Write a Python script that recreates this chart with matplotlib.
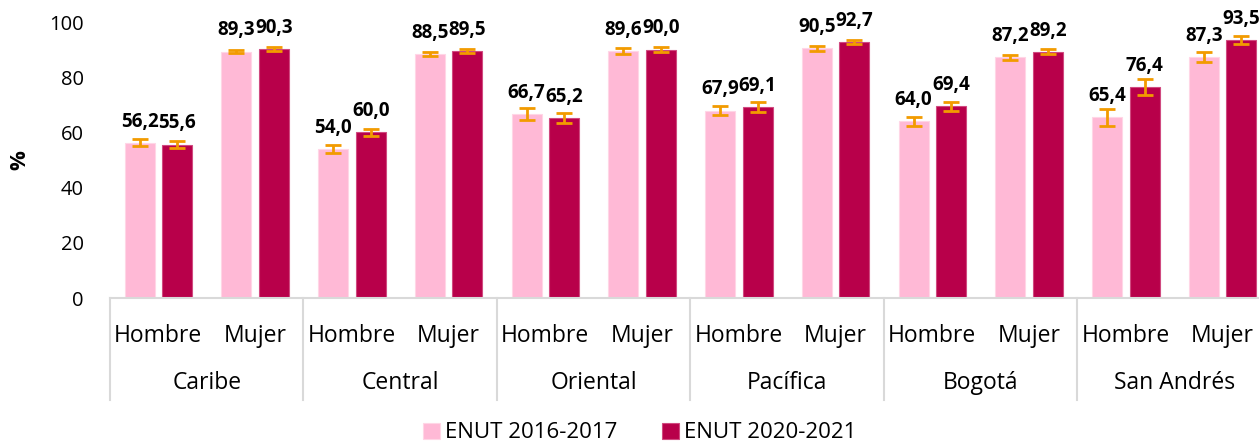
import numpy as np
import matplotlib.pyplot as plt
from matplotlib.transforms import blended_transform_factory

plt.rcParams["font.family"] = ["Open Sans", "DejaVu Sans"]

# Data
regions = ["Caribe", "Central", "Oriental", "Pacífica", "Bogotá", "San Andrés"]
sexes = ["Hombre", "Mujer"]
series_names = ["ENUT 2016-2017", "ENUT 2020-2021"]

enut_2016 = [56.2, 89.3, 54.0, 88.5, 66.7, 89.6, 67.9, 90.5, 64.0, 87.2, 65.4, 87.3]
enut_2020 = [55.6, 90.3, 60.0, 89.5, 65.2, 90.0, 69.1, 92.7, 69.4, 89.2, 76.4, 93.5]
err_2016 = [1.3, 0.7, 1.6, 0.7, 2.2, 1.1, 1.5, 0.9, 1.6, 0.9, 3.0, 1.9]
err_2020 = [1.2, 0.7, 1.4, 0.7, 1.8, 0.9, 1.8, 0.8, 1.5, 0.9, 2.9, 1.3]

PINK = "#FFB9D6"
DARK = "#B8004A"
ORANGE = "#F29B00"

fig = plt.figure(figsize=(12.59, 4.46), dpi=100)
W, H = 1259, 446
# axes placed in pixel terms: left 110, right 1271 (cut off by image edge), y0 at 298, y100 at 22
ax = fig.add_axes([110 / W, 1 - 298 / H, 1161 / W, 276 / H])

x = np.arange(len(enut_2016))
off = 0.195
bw = 0.31

ax.bar(x - off, enut_2016, bw, color=PINK, edgecolor="#FFD6E6", linewidth=0.8,
       label=series_names[0], zorder=2)
ax.bar(x + off, enut_2020, bw, color=DARK, edgecolor="#D04A80", linewidth=0.8,
       label=series_names[1], zorder=2)

ekw = dict(fmt="none", ecolor=ORANGE, elinewidth=2.0, capsize=6, capthick=2.0, zorder=3)
ax.errorbar(x - off, enut_2016, yerr=err_2016, **ekw)
ax.errorbar(x + off, enut_2020, yerr=err_2020, **ekw)

for xi, v in zip(x - off, enut_2016):
    ax.annotate(f"{v:.1f}".replace(".", ","), (xi, v), xytext=(0, 8),
                textcoords="offset points", ha="center", va="bottom",
                fontsize=13.5, fontweight="bold", annotation_clip=False)
for xi, v in zip(x + off, enut_2020):
    ax.annotate(f"{v:.1f}".replace(".", ","), (xi, v), xytext=(0, 8),
                textcoords="offset points", ha="center", va="bottom",
                fontsize=13.5, fontweight="bold", annotation_clip=False)

ax.set_xlim(-0.5, len(x) - 0.5)
ax.set_ylim(0, 100)
ax.set_yticks(range(0, 101, 20))
ax.tick_params(axis="y", length=0, labelsize=14.5, pad=19)
ax.set_ylabel("%", fontsize=16, fontweight="bold")
ax.yaxis.set_label_coords(-80 / 1161, 0.5)

ax.set_xticks(x)
ax.set_xticklabels(sexes * len(regions), fontsize=16.5)
ax.tick_params(axis="x", length=0, pad=19)

for s in ["top", "right", "left"]:
    ax.spines[s].set_visible(False)
ax.spines["bottom"].set_color("#D9D9D9")
ax.spines["bottom"].set_linewidth(1.5)

# group separators and region labels under the axis
trans = blended_transform_factory(ax.transData, ax.transAxes)
for b in np.arange(-0.5, len(x), 2):
    ax.plot([b, b], [0, -102 / 276], color="#D9D9D9", lw=1.5,
            transform=trans, clip_on=False)
for i, r in enumerate(regions):
    ax.text(2 * i + 0.5, -85 / 276, r, transform=trans, ha="center",
            va="center", fontsize=16.5)

fig.legend(loc="center", bbox_to_anchor=(640 / W, 1 - 433 / H), ncol=2,
           frameon=False, fontsize=16, handlelength=0.75, handleheight=0.75,
           handletextpad=0.25, columnspacing=2.0, borderpad=0.2)

fig.savefig("out.png", dpi=100)
